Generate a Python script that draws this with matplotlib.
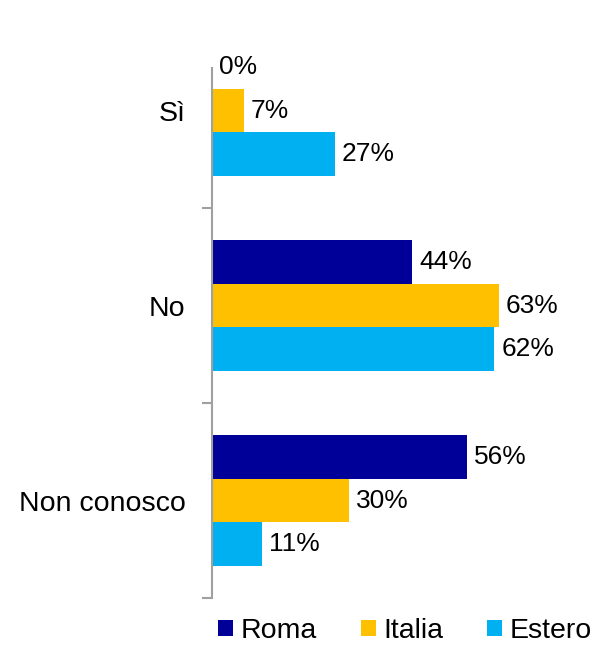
import numpy as np
import matplotlib.pyplot as plt

plt.rcParams['font.family'] = ['Liberation Sans', 'DejaVu Sans']

categories = ["Sì", "No", "Non conosco"]
series = ["Roma", "Italia", "Estero"]
roma = [0, 44, 56]
italia = [7, 63, 30]
estero = [27, 62, 11]
colors = ["#000099", "#FFC000", "#00B0F0"]

fig = plt.figure(figsize=(5.97, 6.47), dpi=100)
ax = fig.add_axes([212 / 597, 1 - 598 / 647, 1 - 212 / 597, 530 / 647])

y = np.arange(len(categories))
h = 0.223
for i, (name, vals) in enumerate(zip(series, [roma, italia, estero])):
    pos = y + (i - 1) * h
    bars = ax.barh(pos, vals, height=h, color=colors[i], label=name)
    for p, v in zip(pos, vals):
        ax.annotate(f"{v}%", (v, p), xytext=(5, 0), textcoords="offset points",
                    va="center", ha="left", fontsize=19, annotation_clip=False)

ax.set_xlim(0, 84.5)
ax.set_ylim(2.5, -0.218)

ax.set_yticks(y)
ax.set_yticklabels(categories, fontsize=20.5)
ax.tick_params(axis="y", which="major", length=0, pad=19)
ax.set_yticks([0.5, 1.5, 2.5], minor=True)
ax.tick_params(axis="y", which="minor", length=7, width=1.5, color="#A0A0A0")
ax.set_xticks([])

for s in ["top", "right", "bottom"]:
    ax.spines[s].set_visible(False)
ax.spines["left"].set_color("#A0A0A0")
ax.spines["left"].set_linewidth(1.5)

fig.legend(loc="center", bbox_to_anchor=(405 / 597, 1 - 631 / 647), ncol=3,
           frameon=False, fontsize=20.5, handlelength=0.53, handleheight=0.53,
           handletextpad=0.25, columnspacing=1.55, borderpad=0)

fig.savefig("out.png", dpi=100)
